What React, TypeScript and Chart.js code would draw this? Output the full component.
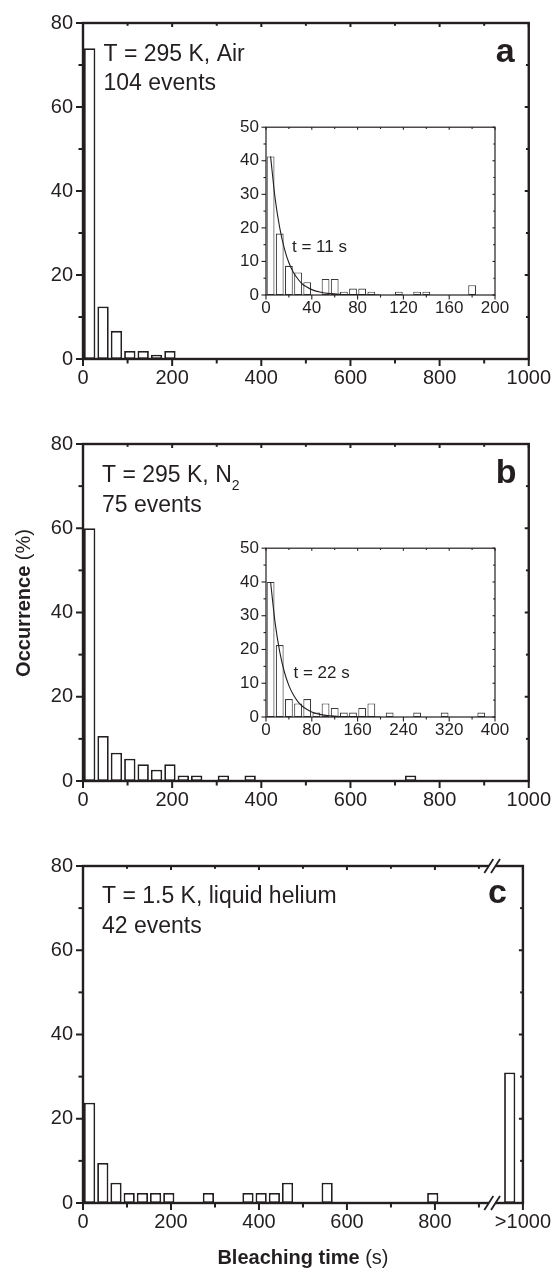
import React, { useEffect, useRef } from 'react';
import { Chart, registerables } from 'chart.js';

Chart.register(...registerables);

const INK = '#231f20';
const FONT = '"Liberation Sans", Arial, Helvetica, sans-serif';

// ---------- Panel a: T = 295 K, Air (104 events) ----------
const A_BIN_CENTERS = [15, 45, 75, 105, 135, 165, 195];
const A_OCCURRENCE = [74.0, 12.5, 6.7, 1.9, 1.9, 1.0, 1.9];
const A_INSET_BIN_CENTERS = [4, 12, 20, 28, 36, 52, 60, 68, 76, 84, 92, 116, 132, 140, 180];
const A_INSET_OCCURRENCE = [41.3, 18.3, 8.7, 6.7, 3.8, 4.8, 4.8, 1.0, 1.9, 1.9, 1.0, 1.0, 1.0, 1.0, 2.9];
const A_FIT_TIME = [4, 8, 12, 16, 20, 24, 28, 32, 36, 40, 48, 56, 64, 72, 80, 100];
const A_FIT_OCCURRENCE = [41.3, 28.7, 20.0, 13.9, 9.6, 6.7, 4.7, 3.2, 2.3, 1.6, 0.8, 0.4, 0.2, 0.1, 0.04, 0.0];

// ---------- Panel b: T = 295 K, N2 (75 events) ----------
const B_BIN_CENTERS = [15, 45, 75, 105, 135, 165, 195, 225, 255, 315, 375, 735];
const B_OCCURRENCE = [60.0, 10.7, 6.7, 5.3, 4.0, 2.7, 4.0, 1.3, 1.3, 1.3, 1.3, 1.3];
const B_INSET_BIN_CENTERS = [8, 24, 40, 56, 72, 88, 104, 120, 136, 152, 168, 184, 216, 264, 312, 376];
const B_INSET_OCCURRENCE = [40.0, 21.3, 5.3, 4.0, 5.3, 1.3, 4.0, 2.7, 1.3, 1.3, 2.7, 4.0, 1.3, 1.3, 1.3, 1.3];
const B_FIT_TIME = [8, 16, 24, 32, 40, 48, 56, 64, 72, 80, 96, 112, 128, 144, 160, 200];
const B_FIT_OCCURRENCE = [40.0, 27.8, 19.3, 13.4, 9.3, 6.5, 4.5, 3.1, 2.2, 1.5, 0.7, 0.35, 0.17, 0.08, 0.04, 0.0];

// ---------- Panel c: T = 1.5 K, liquid helium (42 events) ----------
const C_BIN_CENTERS = [15, 45, 75, 105, 135, 165, 195, 285, 375, 405, 435, 465, 555, 795, 970];
const C_OCCURRENCE = [23.8, 9.5, 4.8, 2.4, 2.4, 2.4, 2.4, 2.4, 2.4, 2.4, 2.4, 4.8, 4.8, 2.4, 31.0];
const C_BREAK_AT = 930;

// ---------- Ticks ----------
const MAIN_X_TICKS = [0, 200, 400, 600, 800, 1000];
const MAIN_X_MINOR = [100, 300, 500, 700, 900];
const C_X_TICK_LABELS = ['0', '200', '400', '600', '800', '>1000'];
const MAIN_Y_TICKS = [0, 20, 40, 60, 80];
const MAIN_Y_MINOR = [10, 30, 50, 70];
const INSET_Y_TICKS = [0, 10, 20, 30, 40, 50];
const INSET_Y_MINOR = [5, 15, 25, 35, 45];
const A_INSET_X_TICKS = [0, 40, 80, 120, 160, 200];
const A_INSET_X_MINOR = [20, 60, 100, 140, 180];
const B_INSET_X_TICKS = [0, 80, 160, 240, 320, 400];
const B_INSET_X_MINOR = [40, 120, 200, 280, 360];

type Box = { left: number; top: number; width: number; height: number };
type Area = { left: number; top: number; right: number; bottom: number };
type Spec = {
  id: string;
  box: Box;
  area: Area;
  inset: boolean;
  xMax: number;
  yMax: number;
  xTicks: number[];
  xMinor: number[];
  xLabels?: string[];
  yTicks: number[];
  yMinor: number[];
  binX: number[];
  binY: number[];
  fitX?: number[];
  fitY?: number[];
  breakAt?: number;
  draw?: (ctx: CanvasRenderingContext2D, ca: any, chart: any) => void;
};

function text(
  ctx: CanvasRenderingContext2D,
  s: string,
  x: number,
  y: number,
  size: number,
  weight = 'normal',
  align: CanvasTextAlign = 'left'
) {
  ctx.save();
  ctx.font = `${weight} ${size}px ${FONT}`;
  ctx.fillStyle = INK;
  ctx.textAlign = align;
  ctx.textBaseline = 'alphabetic';
  ctx.fillText(s, x, y);
  ctx.restore();
}

const SPECS: Spec[] = [
  {
    id: 'a',
    box: { left: 0, top: 0, width: 558, height: 405 },
    area: { left: 83, top: 23, right: 532, bottom: 359 },
    inset: false,
    xMax: 1000,
    yMax: 80,
    xTicks: MAIN_X_TICKS,
    xMinor: MAIN_X_MINOR,
    yTicks: MAIN_Y_TICKS,
    yMinor: MAIN_Y_MINOR,
    binX: A_BIN_CENTERS,
    binY: A_OCCURRENCE,
    draw: (ctx, ca) => {
      text(ctx, 'T = 295 K, Air', ca.left + 20.5, ca.top + 37.5, 23);
      text(ctx, '104 events', ca.left + 20.5, ca.top + 67, 23);
      text(ctx, 'a', ca.right - 33, ca.top + 39, 34, 'bold');
    },
  },
  {
    id: 'b',
    box: { left: 0, top: 420, width: 558, height: 405 },
    area: { left: 83, top: 444, right: 532, bottom: 781 },
    inset: false,
    xMax: 1000,
    yMax: 80,
    xTicks: MAIN_X_TICKS,
    xMinor: MAIN_X_MINOR,
    yTicks: MAIN_Y_TICKS,
    yMinor: MAIN_Y_MINOR,
    binX: B_BIN_CENTERS,
    binY: B_OCCURRENCE,
    draw: (ctx, ca) => {
      ctx.save();
      ctx.font = `normal 23px ${FONT}`;
      const w = ctx.measureText('T = 295 K, N').width;
      ctx.restore();
      text(ctx, 'T = 295 K, N', ca.left + 19, ca.top + 37.5, 23);
      text(ctx, '2', ca.left + 19 + w, ca.top + 45.5, 14);
      text(ctx, '75 events', ca.left + 19, ca.top + 68, 23);
      text(ctx, 'b', ca.right - 33, ca.top + 39, 34, 'bold');
      // y-axis title, shared by the whole figure
      ctx.save();
      const bold = `bold 20px ${FONT}`;
      const reg = `normal 20px ${FONT}`;
      ctx.font = bold;
      const w1 = ctx.measureText('Occurrence').width;
      ctx.font = reg;
      const w2 = ctx.measureText(' (%)').width;
      ctx.translate(24, 603 - 420);
      ctx.rotate(-Math.PI / 2);
      ctx.fillStyle = INK;
      ctx.textBaseline = 'middle';
      ctx.textAlign = 'left';
      const start = -(w1 + w2) / 2;
      ctx.font = bold;
      ctx.fillText('Occurrence', start, 0);
      ctx.font = reg;
      ctx.fillText(' (%)', start + w1, 0);
      ctx.restore();
    },
  },
  {
    id: 'c',
    box: { left: 0, top: 842, width: 558, height: 428 },
    area: { left: 83, top: 866, right: 532, bottom: 1203 },
    inset: false,
    xMax: 1000,
    yMax: 80,
    xTicks: MAIN_X_TICKS,
    xMinor: MAIN_X_MINOR,
    xLabels: C_X_TICK_LABELS,
    yTicks: MAIN_Y_TICKS,
    yMinor: MAIN_Y_MINOR,
    binX: C_BIN_CENTERS,
    binY: C_OCCURRENCE,
    breakAt: C_BREAK_AT,
    draw: (ctx, ca) => {
      text(ctx, 'T = 1.5 K, liquid helium', ca.left + 19, ca.top + 37, 23);
      text(ctx, '42 events', ca.left + 19, ca.top + 67, 23);
      text(ctx, 'c', ca.right - 35, ca.top + 37, 34, 'bold');
      ctx.save();
      const bold = `bold 20px ${FONT}`;
      const reg = `normal 20px ${FONT}`;
      ctx.font = bold;
      const w1 = ctx.measureText('Bleaching time').width;
      ctx.font = reg;
      const w2 = ctx.measureText(' (s)').width;
      const cx = (ca.left + ca.right) / 2;
      const start = cx - (w1 + w2) / 2;
      ctx.fillStyle = INK;
      ctx.textAlign = 'left';
      ctx.textBaseline = 'alphabetic';
      ctx.font = bold;
      ctx.fillText('Bleaching time', start, ca.bottom + 61);
      ctx.font = reg;
      ctx.fillText(' (s)', start + w1, ca.bottom + 61);
      ctx.restore();
    },
  },
  {
    id: 'ai',
    box: { left: 220, top: 110, width: 300, height: 215 },
    area: { left: 266, top: 127, right: 495, bottom: 295 },
    inset: true,
    xMax: 200,
    yMax: 50,
    xTicks: A_INSET_X_TICKS,
    xMinor: A_INSET_X_MINOR,
    yTicks: INSET_Y_TICKS,
    yMinor: INSET_Y_MINOR,
    binX: A_INSET_BIN_CENTERS,
    binY: A_INSET_OCCURRENCE,
    fitX: A_FIT_TIME,
    fitY: A_FIT_OCCURRENCE,
    draw: (ctx, ca) => {
      text(ctx, 't = 11 s', ca.left + 26, ca.top + 125, 17);
    },
  },
  {
    id: 'bi',
    box: { left: 220, top: 531, width: 300, height: 215 },
    area: { left: 266, top: 548, right: 495, bottom: 717 },
    inset: true,
    xMax: 400,
    yMax: 50,
    xTicks: B_INSET_X_TICKS,
    xMinor: B_INSET_X_MINOR,
    yTicks: INSET_Y_TICKS,
    yMinor: INSET_Y_MINOR,
    binX: B_INSET_BIN_CENTERS,
    binY: B_INSET_OCCURRENCE,
    fitX: B_FIT_TIME,
    fitY: B_FIT_OCCURRENCE,
    draw: (ctx, ca) => {
      text(ctx, 't = 22 s', ca.left + 27.5, ca.top + 130, 17);
    },
  },
];

function framePlugin(spec: Spec) {
  return {
    id: 'frame_' + spec.id,
    afterDatasetsDraw(chart: any) {
      const { ctx, chartArea: ca, scales } = chart;
      const xs = scales.x;
      const ys = scales.y;
      const lw = spec.inset ? 1.2 : 2.4;
      const tw = spec.inset ? 1.1 : 2;
      const major = spec.inset ? 4.5 : 7;
      const minor = spec.inset ? 2.5 : 4.5;
      const inner = spec.inset ? 2.5 : 4;
      ctx.save();
      ctx.strokeStyle = INK;
      ctx.lineCap = 'butt';
      const seg = (x1: number, y1: number, x2: number, y2: number) => {
        ctx.beginPath();
        ctx.moveTo(x1, y1);
        ctx.lineTo(x2, y2);
        ctx.stroke();
      };
      ctx.lineWidth = tw;
      spec.xTicks.forEach((v) => {
        const p = xs.getPixelForValue(v);
        seg(p, ca.bottom, p, ca.bottom + major);
        seg(p, ca.top, p, ca.top + inner);
      });
      spec.xMinor.forEach((v) => {
        const p = xs.getPixelForValue(v);
        seg(p, ca.bottom, p, ca.bottom + minor);
        seg(p, ca.top, p, ca.top + inner * 0.7);
      });
      spec.yTicks.forEach((v) => {
        const p = ys.getPixelForValue(v);
        seg(ca.left, p, ca.left - major, p);
        seg(ca.right, p, ca.right - inner, p);
      });
      spec.yMinor.forEach((v) => {
        const p = ys.getPixelForValue(v);
        seg(ca.left, p, ca.left - minor, p);
        seg(ca.right, p, ca.right - inner * 0.7, p);
      });
      ctx.lineWidth = lw;
      ctx.lineJoin = 'miter';
      ctx.strokeRect(ca.left, ca.top, ca.right - ca.left, ca.bottom - ca.top);
      if (spec.breakAt !== undefined) {
        const px = xs.getPixelForValue(spec.breakAt);
        [ca.top, ca.bottom].forEach((y: number) => {
          ctx.fillStyle = '#ffffff';
          ctx.fillRect(px - 3.3, y - lw, 6.7, lw * 2);
          ctx.lineWidth = 1.8;
          for (let k = 0; k < 2; k++) {
            const x0 = px - 7.8 + 6.7 * k;
            seg(x0, y + 7, x0 + 9, y - 7);
          }
        });
      }
      ctx.restore();
    },
    afterDraw(chart: any) {
      if (spec.draw) spec.draw(chart.ctx, chart.chartArea, chart);
    },
  };
}

function buildChart(canvas: HTMLCanvasElement, spec: Spec) {
  const a = spec.area;
  const b = spec.box;
  const padding = {
    left: 0,
    top: a.top - b.top,
    right: b.left + b.width - a.right,
    bottom: 0,
  };
  const yWidth = a.left - b.left;
  const xHeight = b.top + b.height - a.bottom;
  const tickSize = spec.inset ? 17 : 20;
  const datasets: any[] = [
    {
      type: 'bar',
      data: spec.binX.map((x, i) => ({ x, y: spec.binY[i] })),
      backgroundColor: '#ffffff',
      borderColor: spec.inset ? '#3a3a3a' : INK,
      borderWidth: spec.inset ? 1.1 : 1.8,
      borderSkipped: false,
      barPercentage: 0.85,
      categoryPercentage: 1,
      order: 2,
    },
  ];
  if (spec.fitX && spec.fitY) {
    datasets.push({
      type: 'line',
      data: spec.fitX.map((x, i) => ({ x, y: spec.fitY![i] })),
      borderColor: INK,
      borderWidth: 1.1,
      pointRadius: 0,
      fill: false,
      cubicInterpolationMode: 'monotone',
      order: 1,
    });
  }
  return new Chart(canvas, {
    type: 'bar',
    data: { datasets },
    options: {
      responsive: false,
      animation: false,
      devicePixelRatio: 1,
      events: [],
      layout: { padding },
      plugins: {
        legend: { display: false },
        tooltip: { enabled: false },
        title: { display: false },
      },
      scales: {
        x: {
          type: 'linear',
          min: 0,
          max: spec.xMax,
          offset: false,
          grid: { display: false, drawTicks: false },
          border: { display: false },
          ticks: {
            autoSkip: false,
            maxRotation: 0,
            minRotation: 0,
            padding: spec.inset ? 3 : 7,
            color: INK,
            font: { family: FONT, size: tickSize },
            callback: (value: any, index: number) =>
              spec.xLabels ? spec.xLabels[index] : String(value),
          },
          afterBuildTicks: (scale: any) => {
            scale.ticks = spec.xTicks.map((v) => ({ value: v }));
          },
          afterFit: (scale: any) => {
            scale.height = xHeight;
          },
        },
        y: {
          type: 'linear',
          min: 0,
          max: spec.yMax,
          grid: { display: false, drawTicks: false },
          border: { display: false },
          ticks: {
            autoSkip: false,
            padding: spec.inset ? 7 : 10,
            color: INK,
            font: { family: FONT, size: tickSize },
            callback: (value: any) => String(value),
          },
          afterBuildTicks: (scale: any) => {
            scale.ticks = spec.yTicks.map((v) => ({ value: v }));
          },
          afterFit: (scale: any) => {
            scale.width = yWidth;
          },
        },
      },
    } as any,
    plugins: [framePlugin(spec)],
  } as any);
}

function ChartCanvas({ spec }: { spec: Spec }) {
  const ref = useRef<HTMLCanvasElement>(null);
  useEffect(() => {
    if (!ref.current) return;
    const chart = buildChart(ref.current, spec);
    return () => chart.destroy();
  }, [spec]);
  const b = spec.box;
  return (
    <canvas
      ref={ref}
      width={b.width}
      height={b.height}
      style={{
        position: 'absolute',
        left: b.left,
        top: b.top,
        width: b.width,
        height: b.height,
        display: 'block',
      }}
    />
  );
}

export default function App() {
  return (
    <div
      style={{
        position: 'absolute',
        left: 0,
        top: 0,
        width: 558,
        height: 1270,
        background: '#ffffff',
        overflow: 'hidden',
      }}
    >
      {SPECS.map((s) => (
        <ChartCanvas key={s.id} spec={s} />
      ))}
    </div>
  );
}
